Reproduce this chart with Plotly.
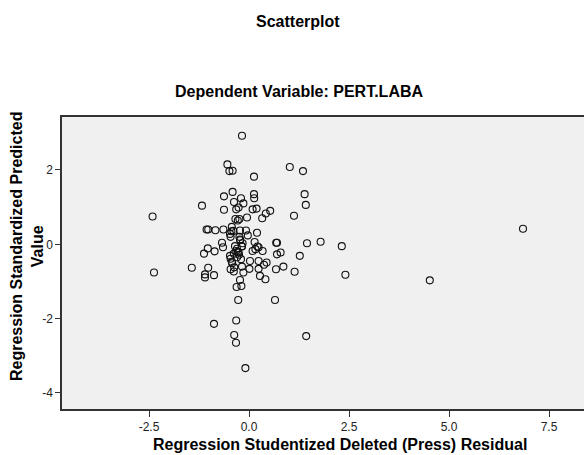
import plotly.graph_objects as go

# Regression Studentized Deleted (Press) Residual
residual = [
    -0.175, -0.54, -0.49, -0.41, 0.125, 1.02, 1.35, 1.39, 1.42, 1.125,
    1.79, 2.32, 1.45, 1.27, -2.41, -1.175, -0.625, -0.41, -0.375, -0.2,
    -0.14, -0.26, -0.32, -0.625, 0.125, 0.13, 0.09, 0.19, 0.42, 0.53,
    0.33, -0.05, -0.34, -0.24, -0.28, -1.06, -1.02, -0.84, -0.64, -0.43,
    -0.44, -0.39, -0.225, -0.075, -0.03, 0.2, -0.24, -0.22, -0.475, -0.46,
    -0.675, -0.65, -1.03, -1.125, -0.86, 0.14, 0.68, 0.70, 0.70, 0.79,
    0.24, 0.16, 0.34, 0.09, -0.30, -0.28, -0.25, -0.26, -0.18, -0.32,
    -0.225, -0.175, -0.16,
    -2.375, -1.43, -1.02, -1.10, -1.10, -0.875, -0.475, -0.46, -0.43, -0.42,
    -0.46, -0.37, -0.38, -0.175, -0.14, -0.225, -0.31, -0.19, -0.27, -0.32,
    -0.875, -0.37, -0.325, -0.09, 0.65, 1.43, 0.025, 0.01, 0.24, 0.24,
    0.275, 0.41, 0.375, 0.44, 0.21, 0.675, 0.86, 1.14, 2.41, 4.52,
    6.85, -0.35, -0.38, -0.30, -0.20,
]

# Regression Standardized Predicted Value
predicted = [
    2.92, 2.15, 1.97, 1.98, 1.82, 2.08, 1.97, 1.35, 1.06, 0.77,
    0.07, -0.05, 0.03, -0.31, 0.75, 1.04, 1.29, 1.41, 1.14, 1.24,
    1.10, 0.99, 0.94, 0.93, 1.35, 1.24, 0.94, 0.96, 0.83, 0.90,
    0.70, 0.72, 0.68, 0.68, 0.64, 0.40, 0.40, 0.38, 0.40, 0.47,
    0.35, 0.36, 0.37, 0.37, 0.24, 0.31, 0.20, 0.11, 0.28, 0.20,
    0.04, -0.08, -0.11, -0.25, -0.19, 0.06, 0.04, 0.04, -0.27, -0.22,
    -0.08, -0.13, -0.18, -0.18, -0.12, -0.20, -0.28, -0.22, -0.05, -0.18,
    0.13, -0.06, 0.03,
    -0.76, -0.63, -0.63, -0.81, -0.89, -0.83, -0.31, -0.39, -0.47, -0.51,
    -0.67, -0.62, -0.73, -0.60, -0.76, -0.96, -1.15, -1.12, -1.50, -2.05,
    -2.14, -2.44, -2.65, -3.33, -1.50, -2.47, -0.45, -0.66, -0.45, -0.66,
    -0.85, -0.94, -0.55, -0.49, -0.06, -0.67, -0.60, -0.74, -0.82, -0.97,
    0.42, -0.05, -0.25, -0.35, -0.40,
]

x_tickvals = [-2.5, 0.0, 2.5, 5.0, 7.5]
x_ticktext = ["-2.5", "0.0", "2.5", "5.0", "7.5"]
y_tickvals = [2, 0, -2, -4]
y_ticktext = ["2", "0", "-2", "-4"]

W, H = 584, 455
L, R, T, B = 62, 0, 117, 46
pw, ph = W - L - R, H - T - B


def px(x):
    return (x - L) / pw


def py(y):
    return (H - B - y) / ph


fig = go.Figure()
fig.add_trace(go.Scatter(
    x=residual, y=predicted, mode="markers",
    marker=dict(symbol="circle-open", size=7, color="#111111",
                line=dict(width=1.1, color="#111111")),
    hoverinfo="x+y", showlegend=False,
))

font = "Liberation Sans, Arial, sans-serif"
annots = [
    dict(text="<b>Scatterplot</b>", x=px(297.5), y=py(21)),
    dict(text="<b>Dependent Variable: PERT.LABA</b>", x=px(298.5), y=py(91)),
    dict(text="<b>Regression Studentized Deleted (Press) Residual</b>", x=px(340), y=py(444)),
]
for a in annots:
    fig.add_annotation(text=a["text"], x=a["x"], y=a["y"], xref="paper", yref="paper",
                       showarrow=False, xanchor="center", yanchor="middle",
                       font=dict(family=font, size=16, color="#000000"))
fig.add_annotation(text="<b>Regression Standardized Predicted<br>Value</b>",
                   x=px(27), y=py(247), xref="paper", yref="paper", textangle=-90,
                   showarrow=False, xanchor="center", yanchor="middle",
                   font=dict(family=font, size=16, color="#000000"))

fig.update_layout(
    width=W, height=H,
    margin=dict(l=L, r=R, t=T, b=B, pad=0),
    paper_bgcolor="white", plot_bgcolor="#F0F0F0",
    font=dict(family=font, size=12, color="#222222"),
    xaxis=dict(range=[-4.675, 8.375], tickvals=x_tickvals, ticktext=x_ticktext,
               showgrid=False, zeroline=False, showline=True, linecolor="#333333",
               linewidth=1.5, mirror=True, ticks="outside", ticklen=6,
               tickcolor="#333333", tickwidth=1.2, tickfont=dict(size=12, color="#222222")),
    yaxis=dict(range=[-4.431, 3.425], tickvals=y_tickvals, ticktext=y_ticktext,
               showgrid=False, zeroline=False, showline=True, linecolor="#333333",
               linewidth=1.5, ticks="outside", ticklen=5,
               tickcolor="#333333", tickwidth=1.2, tickfont=dict(size=12, color="#222222")),
)

fig.write_html(
    "out.html",
    config={"displayModeBar": False},
    post_script="document.body.style.margin='0';document.body.style.overflow='hidden';",
)
